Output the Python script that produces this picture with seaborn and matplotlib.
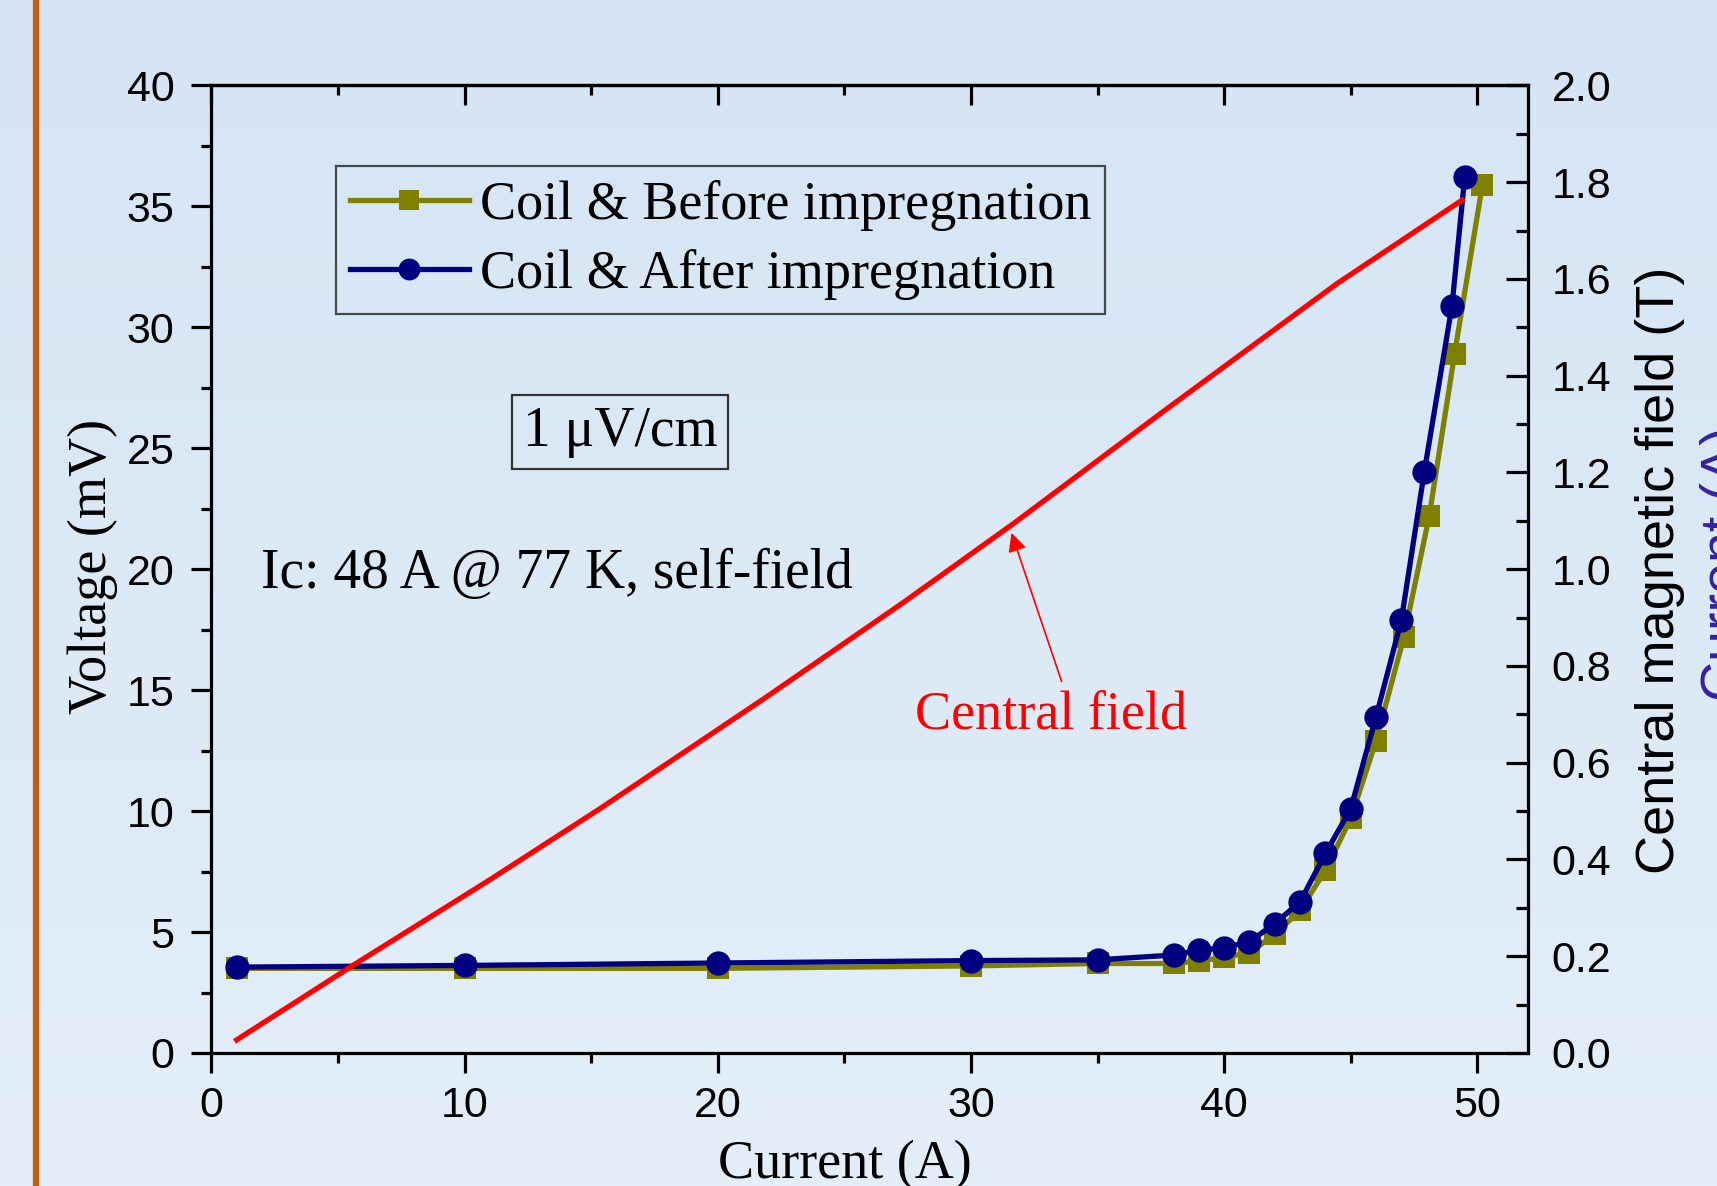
import numpy as np
import pandas as pd
import matplotlib
matplotlib.use("Agg")
import matplotlib.pyplot as plt
from matplotlib.ticker import MultipleLocator
from matplotlib.lines import Line2D
import seaborn as sns

# ---------------- data ----------------
before_current = [1, 10, 20, 30, 35, 38, 39, 40, 41, 42, 43, 44, 45, 46, 47.1, 48.1, 49.1, 50.2]
before_voltage = [3.5, 3.5, 3.5, 3.6, 3.7, 3.7, 3.8, 3.95, 4.15, 4.9, 5.9, 7.55, 9.7, 12.9, 17.2, 22.2, 28.9, 35.9]

after_current = [1, 10, 20, 30, 35, 38, 39, 40, 41, 42, 43, 44, 45, 46, 47, 47.9, 49.0, 49.5]
after_voltage = [3.55, 3.62, 3.72, 3.82, 3.85, 4.05, 4.25, 4.35, 4.6, 5.35, 6.25, 8.25, 10.1, 13.9, 17.9, 24.0, 30.9, 36.2]

field_current = [1.0, 5.5, 11.0, 15.35, 21.9, 27.3, 31.7, 37.7, 44.45, 49.4]
field_tesla = [0.027, 0.178, 0.358, 0.505, 0.735, 0.93, 1.095, 1.33, 1.59, 1.763]

series_labels = ["Coil & Before impregnation", "Coil & After impregnation"]
x_label = "Current (A)"
y_label = "Voltage (mV)"
y2_label = "Central magnetic field (T)"

# ---------------- style ----------------
SERIF = ["Liberation Serif", "DejaVu Serif"]
SANS = ["Liberation Sans", "DejaVu Sans"]
plt.rcParams["font.family"] = SANS

W, H, DPI = 1717, 1186, 100
fig = plt.figure(figsize=(W / DPI, H / DPI), dpi=DPI)

# gradient background
bg = fig.add_axes([0, 0, 1, 1], zorder=-10)
top_c = np.array([0xd5, 0xe5, 0xf4]) / 255
bot_c = np.array([0xe3, 0xee, 0xf8]) / 255
t = np.linspace(0, 1, 256)[:, None, None]
grad = top_c[None, None, :] * (1 - t) + bot_c[None, None, :] * t
bg.imshow(grad, aspect="auto", extent=[0, 1, 0, 1], origin="upper")
bg.set_axis_off()

# orange vertical line at left
fig.add_artist(Line2D([36 / W, 36 / W], [0, 1], transform=fig.transFigure,
                      color="#c55a11", lw=4.5))

left, right = 211.3 / W, 1528 / W
bottom, top = (H - 1053) / H, (H - 85.4) / H
ax = fig.add_axes([left, bottom, right - left, top - bottom])
ax.patch.set_alpha(0)

df_b = pd.DataFrame({"Current": before_current, "Voltage": before_voltage})
df_a = pd.DataFrame({"Current": after_current, "Voltage": after_voltage})

sns.lineplot(data=df_b, x="Current", y="Voltage", ax=ax, color="#808000",
             marker="s", markersize=15.5, markeredgewidth=0, linewidth=3.8,
             label=series_labels[0])
sns.lineplot(data=df_a, x="Current", y="Voltage", ax=ax, color="#000080",
             marker="o", markersize=17.5, markeredgewidth=0, linewidth=3.8,
             label=series_labels[1])

ax.set_xlim(0, 52)
ax.set_ylim(0, 40)
ax.xaxis.set_major_locator(MultipleLocator(10))
ax.xaxis.set_minor_locator(MultipleLocator(5))
ax.yaxis.set_major_locator(MultipleLocator(5))
ax.yaxis.set_minor_locator(MultipleLocator(2.5))

for s in ["left", "bottom", "top"]:
    ax.spines[s].set_linewidth(2.3)
    ax.spines[s].set_color("black")
ax.spines["right"].set_visible(False)

ax.tick_params(axis="both", which="major", direction="out", length=14.5, width=2.3,
               labelsize=31, colors="black")
ax.tick_params(axis="both", which="minor", direction="out", length=7, width=2.3)
ax.tick_params(axis="x", which="major", pad=9)
ax.tick_params(axis="y", which="major", pad=12)

# inward ticks on top spine
sec = ax.secondary_xaxis("top")
sec.xaxis.set_major_locator(MultipleLocator(10))
sec.xaxis.set_minor_locator(MultipleLocator(5))
sec.tick_params(axis="x", which="major", direction="in", length=14.5, width=2.3, labeltop=False)
sec.tick_params(axis="x", which="minor", direction="in", length=7, width=2.3)
sec.spines["top"].set_linewidth(2.3)

ax.set_xlabel(x_label, fontsize=39, family=SERIF)
ax.set_ylabel(y_label, fontsize=39, family=SERIF)
ax.xaxis.set_label_coords(0.481, -0.09)
ax.yaxis.set_label_coords(-0.071, 0.503)

# legend
leg = ax.legend(loc="upper left", bbox_to_anchor=(0.0947, 0.9167), borderaxespad=0,
                prop={"family": SERIF, "size": 39}, handlelength=2.2, handletextpad=0.2,
                borderpad=0.25, labelspacing=0.34, fancybox=False, frameon=True,
                edgecolor="#222222", facecolor="none", markerscale=0.9)
leg.get_frame().set_linewidth(1.6)

# twin axis for central field
ax2 = ax.twinx()
ax2.patch.set_alpha(0)
df_f = pd.DataFrame({"Current": field_current, "Field": field_tesla})
sns.lineplot(data=df_f, x="Current", y="Field", ax=ax2, color="red", linewidth=3.8,
             legend=False)
ax2.set_ylim(0, 2.0)
ax2.set_xlim(0, 52)
ax2.yaxis.set_major_locator(MultipleLocator(0.2))
ax2.yaxis.set_minor_locator(MultipleLocator(0.1))
ax2.yaxis.set_major_formatter(matplotlib.ticker.FormatStrFormatter("%.1f"))
for s in ["left", "bottom", "top"]:
    ax2.spines[s].set_visible(False)
ax2.spines["right"].set_linewidth(2.3)
ax2.tick_params(axis="y", which="major", direction="in", length=16, width=2.3,
                labelsize=31, pad=17)
ax2.tick_params(axis="y", which="minor", direction="in", length=8.5, width=2.3)
ax2.set_ylabel(y2_label, fontsize=39, family=SANS)
ax2.yaxis.set_label_coords(1.081, 0.499)

# annotations
ax.text(16.14, 25.67, "1 \u03bcV/cm", fontsize=40, family=SERIF, ha="center", va="center",
        bbox=dict(boxstyle="square,pad=0.2", fc="none", ec="#333333", lw=1.6))
ax.text(1.96, 19.8, "Ic: 48 A @ 77 K, self-field", fontsize=40, family=SERIF,
        ha="left", va="center")
ax.text(27.8, 13.95, "Central field", fontsize=39, family=SERIF, color="red",
        ha="left", va="center")
ax.annotate("", xy=(31.6, 21.5), xytext=(33.58, 15.36),
            arrowprops=dict(arrowstyle="-|>", color="red", lw=1.2, mutation_scale=28,
                            shrinkA=0, shrinkB=0))

# cut-off blue label at far right
fig.text(1726 / W, 0.525, "Current (A)", rotation=90, fontsize=40, family=SANS,
         color="#3322a0", ha="center", va="center")

fig.savefig("out.png", dpi=DPI)
